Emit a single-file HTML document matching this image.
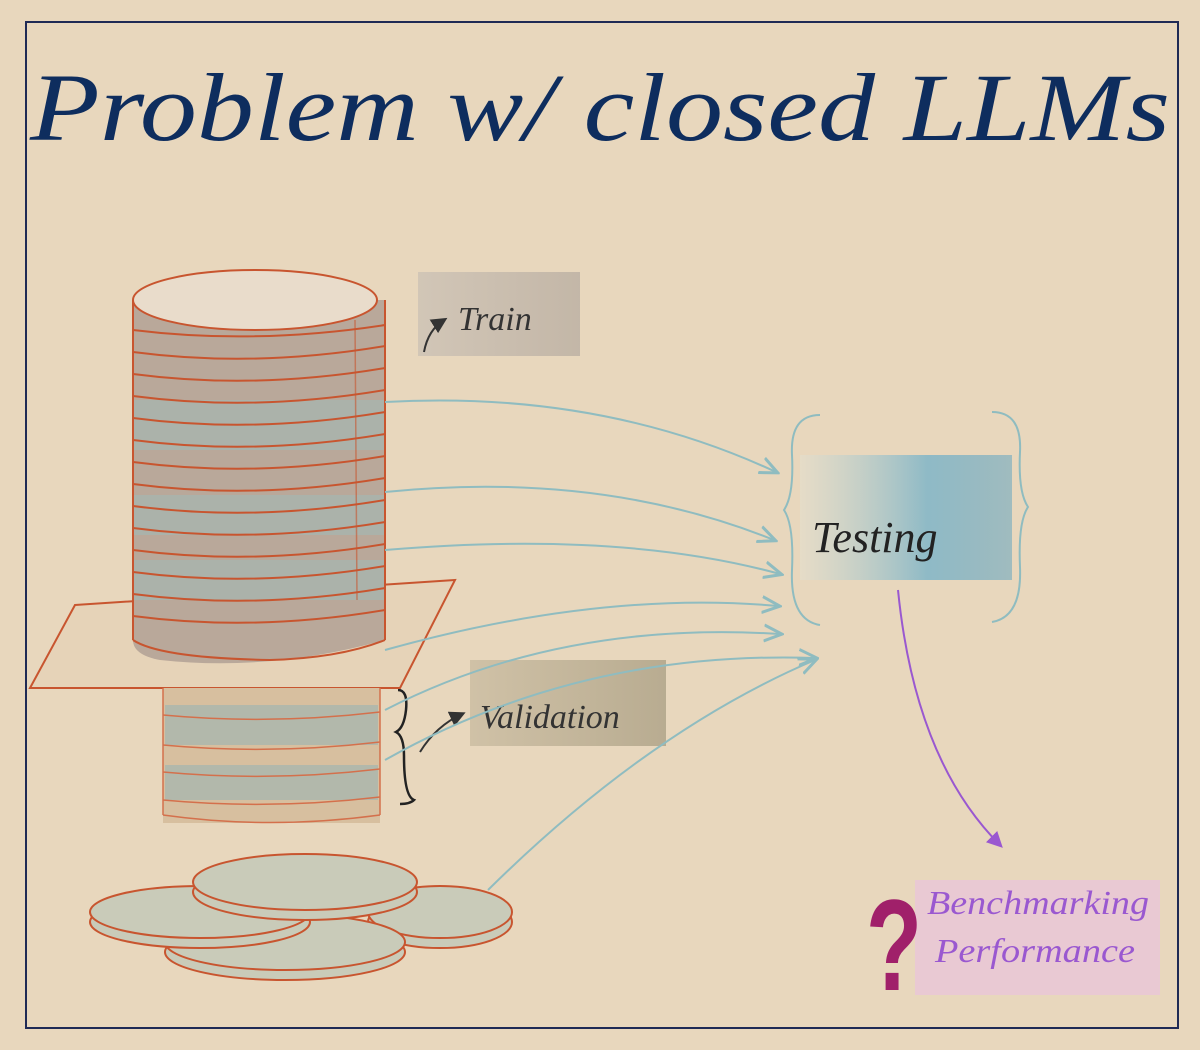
<!DOCTYPE html>
<html><head><meta charset="utf-8"><style>
html,body{margin:0;padding:0;background:#e8d7bd;}
svg{display:block;}
.t{font-family:"Liberation Serif",serif;font-style:italic;}
</style></head><body>
<svg width="1200" height="1050" viewBox="0 0 1200 1050" xmlns="http://www.w3.org/2000/svg">
<defs>
<linearGradient id="tg" x1="0" x2="1" y1="0" y2="0">
<stop offset="0" stop-color="#e3e0d0" stop-opacity="0.6"/>
<stop offset="0.6" stop-color="#7fb5c8"/>
<stop offset="1" stop-color="#6fa9c0" stop-opacity="0.7"/>
</linearGradient>
<linearGradient id="trg" x1="0" x2="1"><stop offset="0" stop-color="#cfc4b6"/><stop offset="1" stop-color="#bfb3a5"/></linearGradient>
<linearGradient id="vg" x1="0" x2="1"><stop offset="0" stop-color="#cdbfa4"/><stop offset="1" stop-color="#b3a78c"/></linearGradient>
<marker id="ab" markerWidth="10" markerHeight="10" refX="8" refY="5" orient="auto"><path d="M0,1 L9,5 L0,9" fill="none" stroke="#8fbcc0" stroke-width="1.5"/></marker>
<marker id="ap" markerWidth="8" markerHeight="8" refX="6" refY="4" orient="auto"><path d="M0,0 L8,4 L0,8 Z" fill="#9a58d0"/></marker>
<marker id="ak" markerWidth="8" markerHeight="8" refX="6" refY="4" orient="auto"><path d="M0,0 L8,4 L0,8 Z" fill="#333"/></marker>
</defs>
<rect x="0" y="0" width="1200" height="1050" fill="#e8d7bd"/>
<rect x="26" y="22" width="1152" height="1006" fill="none" stroke="#1f2a55" stroke-width="2"/>
<text class="t" x="30" y="140" font-size="96" fill="#0e2d5e" textLength="1140" lengthAdjust="spacingAndGlyphs">Problem  w/ closed LLMs</text>

<rect x="418" y="272" width="162" height="84" fill="url(#trg)" opacity="0.9"/>
<text class="t" x="458" y="330" font-size="34" fill="#333">Train</text>
<path d="M424,352 Q428,330 444,320" fill="none" stroke="#333" stroke-width="2" marker-end="url(#ak)"/>

<rect x="470" y="660" width="196" height="86" fill="url(#vg)" opacity="0.9"/>
<text class="t" x="480" y="728" font-size="34" fill="#333">Validation</text>
<path d="M420,752 Q436,726 462,714" fill="none" stroke="#333" stroke-width="2" marker-end="url(#ak)"/>
<path d="M398,690 q10,0 8,20 q-2,18 -10,22 q8,4 8,24 q0,40 10,44 q-4,4 -14,4" fill="none" stroke="#222" stroke-width="2.5"/>

<polygon points="75,605 455,580 400,688 30,688" fill="#e6d3b8" stroke="#c8552f" stroke-width="2"/>

<path d="M133,300 L385,300 L385,640 Q270,672 160,660 Q133,655 133,640 Z" fill="#b9a89a"/>
<rect x="134" y="400" width="250" height="50" fill="#a7b4ae" opacity="0.8"/>
<rect x="134" y="495" width="250" height="40" fill="#a7b4ae" opacity="0.8"/>
<rect x="134" y="560" width="250" height="40" fill="#a7b4ae" opacity="0.8"/>
<g fill="none" stroke="#c8552f" stroke-width="2">
<path d="M133,300 L133,640 M385,300 L385,640"/>
<path d="M133,330 Q255,345 385,325"/>
<path d="M133,352 Q255,368 385,346"/>
<path d="M133,374 Q255,390 385,368"/>
<path d="M133,396 Q255,412 385,390"/>
<path d="M133,418 Q255,434 385,412"/>
<path d="M133,440 Q255,456 385,434"/>
<path d="M133,462 Q255,478 385,456"/>
<path d="M133,484 Q255,500 385,478"/>
<path d="M133,506 Q255,522 385,500"/>
<path d="M133,528 Q255,544 385,522"/>
<path d="M133,550 Q255,566 385,544"/>
<path d="M133,572 Q255,588 385,566"/>
<path d="M133,594 Q255,610 385,588"/>
<path d="M133,616 Q255,632 385,610"/>
<path d="M133,640 Q160,658 270,660 Q340,658 385,640"/>
</g>
<ellipse cx="255" cy="300" rx="122" ry="30" fill="#e9dccb" stroke="#c8552f" stroke-width="2"/>
<line x1="355" y1="320" x2="357" y2="600" stroke="#c8552f" stroke-width="1.5" opacity="0.6"/>

<rect x="163" y="688" width="217" height="135" fill="#d7bf9f"/>
<rect x="165" y="705" width="213" height="40" fill="#a9b6ae" opacity="0.8"/>
<rect x="165" y="765" width="213" height="35" fill="#a9b6ae" opacity="0.8"/>
<g fill="none" stroke="#d4704c" stroke-width="1.5">
<path d="M163,688 L163,815 M380,688 L380,815"/>
<path d="M163,715 Q270,725 380,712"/>
<path d="M163,745 Q270,755 380,742"/>
<path d="M163,772 Q270,782 380,769"/>
<path d="M163,800 Q270,810 380,797"/>
<path d="M163,815 Q270,830 380,815"/>
</g>

<g stroke="#c8552f" stroke-width="2" fill="#c9cbb9">
<ellipse cx="440" cy="922" rx="72" ry="26"/>
<ellipse cx="440" cy="912" rx="72" ry="26"/>
<ellipse cx="285" cy="952" rx="120" ry="28"/>
<ellipse cx="285" cy="942" rx="120" ry="28"/>
<ellipse cx="200" cy="922" rx="110" ry="26"/>
<ellipse cx="200" cy="912" rx="110" ry="26"/>
<ellipse cx="305" cy="892" rx="112" ry="28"/>
<ellipse cx="305" cy="882" rx="112" ry="28"/>
</g>

<g fill="none" stroke="#8fbcc0" stroke-width="2" marker-end="url(#ab)">
<path d="M385,402 Q600,390 776,472"/>
<path d="M385,492 Q600,470 774,540"/>
<path d="M385,550 Q620,530 780,574"/>
<path d="M385,650 Q600,590 778,606"/>
<path d="M385,710 Q560,620 780,634"/>
<path d="M385,760 Q580,650 815,658"/>
<path d="M488,890 Q650,730 815,660"/>
</g>

<rect x="800" y="455" width="212" height="125" fill="url(#tg)" opacity="0.85"/>
<g fill="none" stroke="#8fbcc0" stroke-width="2">
<path d="M820,415 q-30,0 -28,40 q2,40 -8,55 q10,15 8,60 q-2,50 28,55"/>
<path d="M992,412 q30,0 28,40 q-2,40 8,55 q-10,15 -8,60 q2,50 -28,55"/>
</g>
<text class="t" x="812" y="552" font-size="44" fill="#222">Testing</text>

<path d="M898,590 Q915,760 1000,845" fill="none" stroke="#9a58d0" stroke-width="2" marker-end="url(#ap)"/>

<rect x="915" y="880" width="245" height="115" fill="#e8c6d8" opacity="0.8"/>
<text x="866" y="990" font-size="130" fill="#a0206a" font-family="Liberation Sans, sans-serif" font-weight="bold" textLength="56" lengthAdjust="spacingAndGlyphs">?</text>
<text class="t" x="927" y="914" font-size="34" fill="#9a58d0" textLength="222" lengthAdjust="spacingAndGlyphs">Benchmarking</text>
<text class="t" x="935" y="962" font-size="34" fill="#9a58d0" textLength="200" lengthAdjust="spacingAndGlyphs">Performance</text>
</svg>
</body></html>
